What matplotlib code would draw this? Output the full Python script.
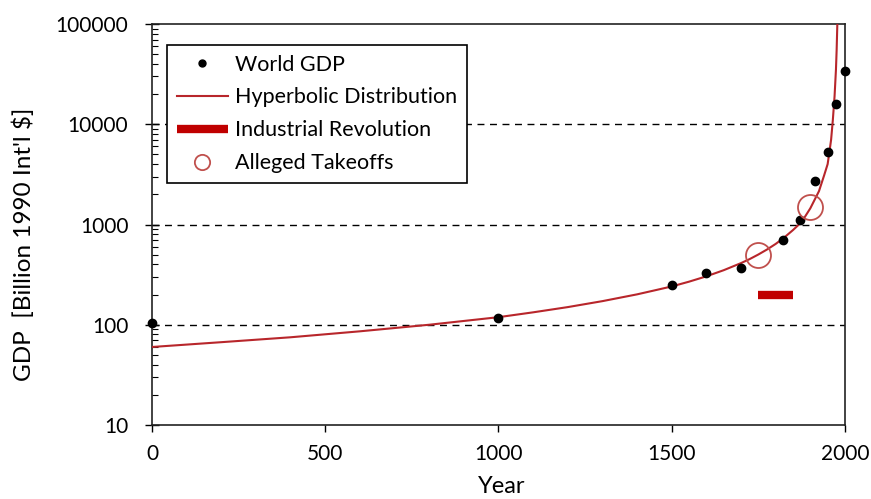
import matplotlib
matplotlib.use("Agg")
import matplotlib.pyplot as plt
from matplotlib.ticker import FixedLocator, LogLocator, NullFormatter, FuncFormatter

plt.rcParams["font.family"] = ["Lato", "DejaVu Sans"]

# World GDP (Maddison)
gdp_years = [0, 1000, 1500, 1600, 1700, 1820, 1870, 1913, 1950, 1973, 2000]
gdp_values = [105, 117, 248, 331, 371, 694, 1110, 2733, 5336, 16059, 33726]

# hyperbolic curve
curve_years = [0, 200, 400, 600, 800, 1000, 1100, 1200, 1300, 1400, 1450, 1500,
               1550, 1600, 1650, 1700, 1725, 1750, 1775, 1800, 1825, 1850, 1875,
               1900, 1925, 1940, 1950, 1955, 1960, 1965, 1970, 1974, 1976, 1978, 1979]
curve_values = [60, 67, 75, 86, 100, 119, 133, 150, 172, 201, 220, 241,
                269, 304, 350, 412, 452, 502, 563, 640, 743, 880, 1060,
                1450, 2150, 3100, 4000, 5250, 7000, 11000, 19000, 35000, 55000,
                100000, 150000]

indrev_years = [1750, 1850]
indrev_values = [200, 200]

takeoff_years = [1750, 1900]
takeoff_values = [500, 1480]

fig = plt.figure(figsize=(8.71, 4.99), dpi=100)
ax = fig.add_axes([0.1745, 0.1483, 0.7956, 0.8036])

for y in [100, 1000, 10000]:
    ax.axhline(y, color="black", linestyle=(0, (5, 4)), linewidth=1.0, zorder=1)

ax.plot(gdp_years, gdp_values, "o", color="black", markersize=6, zorder=4,
        label="World GDP", clip_on=False)
ax.plot(curve_years, curve_values, "-", color="#b8262b", linewidth=1.5, zorder=3,
        label="Hyperbolic Distribution")
ax.plot(indrev_years, indrev_values, "-", color="#c00000", linewidth=6,
        solid_capstyle="butt", zorder=3, label="Industrial Revolution")
ax.plot(takeoff_years, takeoff_values, "o", markersize=18, markerfacecolor="none",
        markeredgecolor="#c0504d", markeredgewidth=1.3, zorder=4,
        label="Alleged Takeoffs", linestyle="none")

ax.set_xlim(0, 2000)
ax.set_yscale("log")
ax.set_ylim(10, 100000)
ax.set_xticks([0, 500, 1000, 1500, 2000])
ax.yaxis.set_major_locator(FixedLocator([10, 100, 1000, 10000, 100000]))
ax.yaxis.set_major_formatter(FuncFormatter(lambda v, p: f"{int(round(v))}"))
ax.yaxis.set_minor_locator(LogLocator(base=10, subs=range(2, 10)))
ax.yaxis.set_minor_formatter(NullFormatter())

ax.tick_params(axis="x", direction="out", length=5, width=1, labelsize=15,
               colors="black", pad=9)
ax.tick_params(axis="y", which="major", direction="inout", length=10, width=1,
               labelsize=15, pad=12)
ax.tick_params(axis="y", which="minor", direction="in", length=4, width=0.8)
for s in ax.spines.values():
    s.set_linewidth(1.2)
    s.set_color("#222222")

ax.set_xlabel("Year", fontsize=17)
ax.set_ylabel("GDP  [Billion 1990 Int'l $]", fontsize=17.5)
ax.xaxis.set_label_coords(0.505, -0.128)
ax.yaxis.set_label_coords(-0.169, 0.45)

leg = ax.legend(loc="upper left", bbox_to_anchor=(0.0216, 0.948), borderaxespad=0,
                fontsize=15.5, frameon=True, fancybox=False, handlelength=2.4,
                handletextpad=0.3, labelspacing=0.6, borderpad=0.45,
                edgecolor="black", framealpha=1, markerscale=1)
leg.get_frame().set_linewidth(1.2)
# smaller circle in the legend
leg.legend_handles[3].set_markersize(11)
leg.legend_handles[0].set_markersize(5)

fig.savefig("out.png", dpi=100)
